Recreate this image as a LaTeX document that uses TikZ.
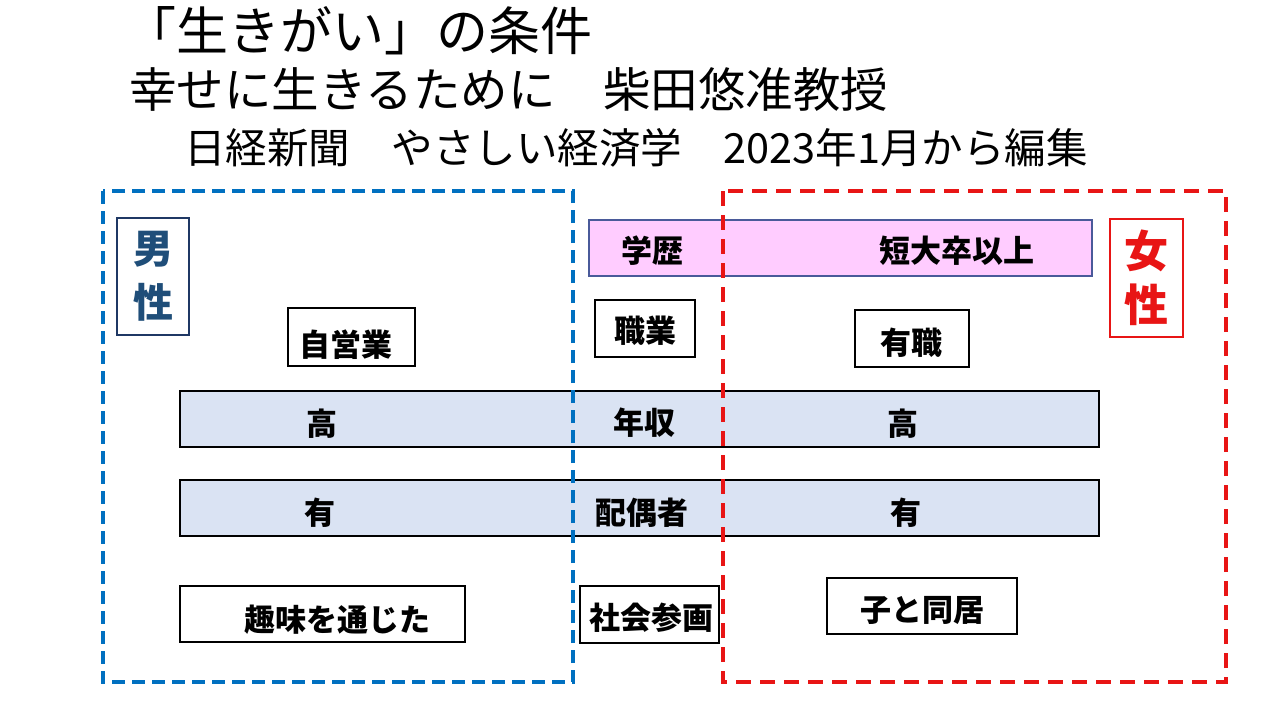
\documentclass[tikz,border=0pt]{standalone}
\usepackage{fontspec}
\setmainfont{Noto Sans CJK JP}
\newfontfamily\jpfont{Noto Sans CJK JP}
\definecolor{mblue}{HTML}{0070C0}
\definecolor{mred}{HTML}{E81515}
\definecolor{mnavy}{HTML}{1F4E79}
\definecolor{mnavyb}{HTML}{1F3864}
\definecolor{mpink}{HTML}{FFCCFF}
\definecolor{mpinkb}{HTML}{4A5A9A}
\definecolor{mbar}{HTML}{DAE3F3}
\tikzset{
  titletext/.style={anchor=west, inner sep=0pt, font=\jpfont},
  box/.style={draw=black, line width=1.6pt, fill=white, inner sep=0pt},
  bar/.style={draw=black, line width=1.6pt, fill=mbar, inner sep=0pt},
  bartext/.style={inner sep=0pt, font=\jpfont\bfseries\fontsize{31}{34}\selectfont},
  bluedash/.style={draw=mblue, line width=4.5pt, dash pattern=on 13pt off 7pt},
  reddash/.style={draw=mred, line width=3.2pt, dash pattern=on 15pt off 9pt},
}
\begin{document}
\begin{tikzpicture}[x=1pt,y=-1pt]
\useasboundingbox (0,0) rectangle (1280,720);
\fill[white] (0,0) rectangle (1280,720);
% titles
\node[titletext, font=\jpfont\fontsize{52}{56}\selectfont] (t1) at (124,31) {「生きがい」の条件};
\node[titletext, font=\jpfont\fontsize{47.5}{52}\selectfont] (t2) at (129,90) {幸せに生きるために　柴田悠准教授};
\node[titletext, font=\jpfont\fontsize{41.5}{45}\selectfont] (t3) at (184,148) {日経新聞　やさしい経済学　2023年1月から編集};
% bars
\node[bar, fill=mpink, draw=mpinkb, minimum width=503, minimum height=56] (gakureki) at (840.5,248) {};
\node[bartext] (gk1) at (652,251) {学歴};
\node[bartext] (gk2) at (957,251) {短大卒以上};
\node[bar, minimum width=919, minimum height=56] (nenshu) at (639.5,419) {};
\node[bartext] (ns1) at (322,424) {高};
\node[bartext] (ns2) at (644,423) {年収};
\node[bartext] (ns3) at (903,424) {高};
\node[bar, minimum width=919, minimum height=56] (haigu) at (639.5,508) {};
\node[bartext] (hg1) at (320,513) {有};
\node[bartext] (hg2) at (642,513) {配偶者};
\node[bartext] (hg3) at (906,513) {有};
% boxes
\node[box, minimum width=100, minimum height=57] (shokugyo) at (645,328.5) {};
\node[bartext] (shokugyoT) at (645,331) {職業};
\node[box, minimum width=127, minimum height=58] (jiei) at (351.5,337) {};
\node[bartext] (jieiT) at (346,345) {自営業};
\node[box, minimum width=114, minimum height=57] (yushoku) at (912,338.5) {};
\node[bartext] (yushokuT) at (911,343) {有職};
\node[box, minimum width=285, minimum height=56] (shumi) at (322.5,614) {};
\node[bartext] (shumiT) at (337,620) {趣味を通じた};
\node[box, minimum width=139, minimum height=57] (shakai) at (649.5,614.5) {};
\node[bartext] (shakaiT) at (651,618) {社会参画};
\node[box, minimum width=190, minimum height=56] (kodomo) at (922,606) {};
\node[bartext] (kodomoT) at (922,610) {子と同居};
% gender labels
\node[draw=mnavyb, line width=1.6pt, fill=white, minimum width=72, minimum height=117, inner sep=0pt, align=center, text=mnavy, font=\jpfont\bfseries\fontsize{40}{54}\selectfont] (otoko) at (153,276.5) {男\\性};
\node[draw=mred, line width=1.6pt, fill=white, minimum width=73, minimum height=118, inner sep=0pt, align=center, text=mred, font=\jpfont\bfseries\fontsize{44}{54}\selectfont] (onna) at (1146.5,278) {女\\性};
% dashed regions
\draw[bluedash] (103,191) rectangle (573,682);
\draw[reddash] (723,191) rectangle (1226,682);
\end{tikzpicture}
\end{document}
